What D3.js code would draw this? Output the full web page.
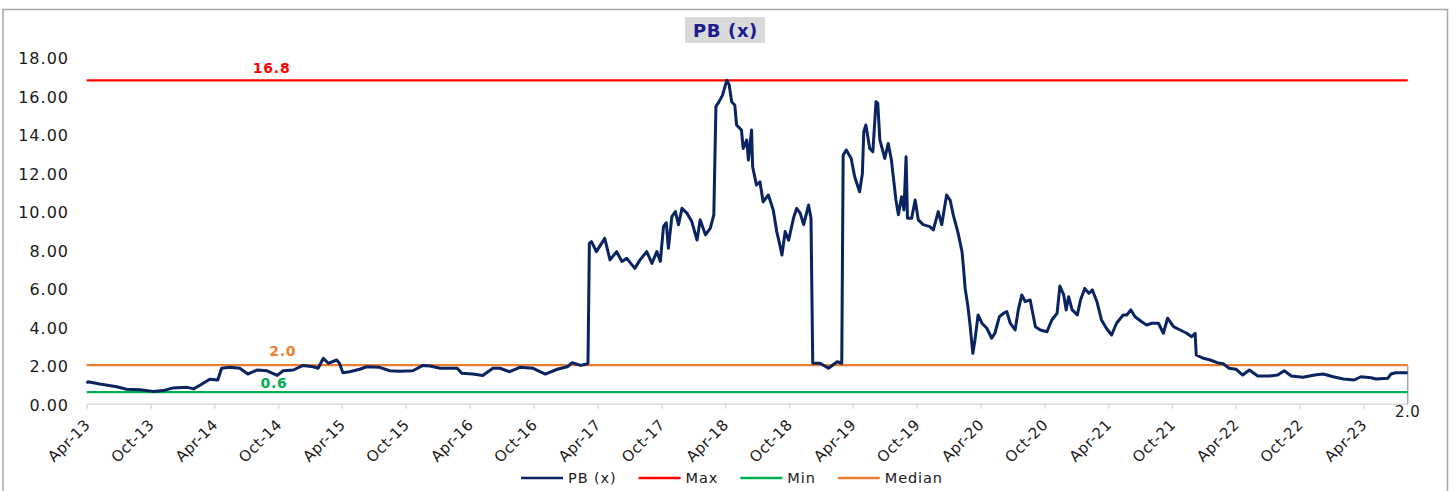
<!DOCTYPE html>
<html>
<head>
<meta charset="utf-8">
<script src="https://cdn.jsdelivr.net/npm/d3@7"></script>
<style>
  html, body { margin: 0; padding: 0; background: #fff; }
  svg { display: block; }
  text { font-family: "DejaVu Sans", Verdana, sans-serif; }
</style>
</head>
<body>
<svg id="chart" width="1456" height="491"></svg>
<script>
// ---------- DATA ----------
const chartTitle = "PB (x)";
const seriesNames = ["PB (x)", "Max", "Min", "Median"];

const pbDates = [
  "2013-04-01","2013-04-05","2013-05-08","2013-06-26","2013-07-24","2013-09-01","2013-10-08","2013-11-06",
  "2013-12-04","2014-01-14","2014-02-01","2014-02-20","2014-03-19","2014-04-11","2014-04-22","2014-05-15",
  "2014-06-13","2014-07-06","2014-08-01","2014-08-30","2014-09-28","2014-10-15","2014-11-13","2014-12-11",
  "2015-01-09","2015-01-23","2015-02-07","2015-02-21","2015-03-17","2015-03-25","2015-04-04","2015-04-23",
  "2015-05-22","2015-06-11","2015-07-18","2015-08-16","2015-09-14","2015-10-21","2015-11-19","2015-12-09",
  "2016-01-07","2016-02-25","2016-03-09","2016-04-10","2016-05-08","2016-06-06","2016-06-26","2016-07-24",
  "2016-08-22","2016-09-29","2016-11-03","2016-12-07","2017-01-05","2017-01-19","2017-02-12","2017-03-02",
  "2017-03-05","2017-03-09","2017-03-15","2017-03-29","2017-04-13","2017-04-22","2017-05-07","2017-05-26",
  "2017-06-10","2017-06-24","2017-07-17","2017-08-01","2017-08-20","2017-09-04","2017-09-18","2017-09-28",
  "2017-10-07","2017-10-15","2017-10-21","2017-10-31","2017-11-10","2017-11-19","2017-11-29","2017-12-13",
  "2017-12-27","2018-01-11","2018-01-20","2018-02-04","2018-02-18","2018-02-28","2018-03-06","2018-03-15",
  "2018-03-25","2018-04-06","2018-04-13","2018-04-20","2018-04-29","2018-05-04","2018-05-18","2018-05-23",
  "2018-06-02","2018-06-07","2018-06-16","2018-06-19","2018-06-30","2018-07-10","2018-07-19","2018-08-03",
  "2018-08-17","2018-08-27","2018-09-06","2018-09-11","2018-09-20","2018-09-30","2018-10-14","2018-10-23",
  "2018-11-02","2018-11-12","2018-11-26","2018-12-03","2018-12-08","2018-12-29","2019-01-22","2019-02-16",
  "2019-03-01","2019-03-05","2019-03-14","2019-03-28","2019-04-07","2019-04-21","2019-04-29","2019-05-03",
  "2019-05-09","2019-05-20","2019-05-29","2019-06-07","2019-06-12","2019-06-18","2019-07-02","2019-07-12",
  "2019-07-21","2019-08-03","2019-08-10","2019-08-19","2019-08-26","2019-09-01","2019-09-05","2019-09-17",
  "2019-09-27","2019-10-06","2019-10-20","2019-11-08","2019-11-18","2019-12-02","2019-12-12","2019-12-26",
  "2020-01-05","2020-01-14","2020-01-28","2020-02-08","2020-02-12","2020-02-17","2020-02-25","2020-03-02",
  "2020-03-10","2020-03-16","2020-03-25","2020-04-05","2020-04-19","2020-05-03","2020-05-12","2020-05-25",
  "2020-06-06","2020-06-15","2020-06-25","2020-07-09","2020-07-18","2020-07-28","2020-08-07","2020-08-21",
  "2020-09-05","2020-09-19","2020-10-08","2020-10-22","2020-11-06","2020-11-14","2020-11-25","2020-12-02",
  "2020-12-09","2020-12-19","2021-01-03","2021-01-12","2021-01-24","2021-02-05","2021-02-15","2021-02-28",
  "2021-03-13","2021-03-27","2021-04-11","2021-04-25","2021-05-14","2021-05-24","2021-06-05","2021-06-17",
  "2021-07-06","2021-07-20","2021-08-04","2021-08-23","2021-09-06","2021-09-18","2021-10-05","2021-10-24",
  "2021-11-12","2021-11-26","2021-12-06","2021-12-09","2021-12-30","2022-01-18","2022-02-07","2022-02-24",
  "2022-03-13","2022-04-02","2022-04-21","2022-05-10","2022-06-03","2022-07-06","2022-07-30","2022-08-18",
  "2022-09-07","2022-10-10","2022-11-13","2022-12-07","2023-01-05","2023-02-03","2023-03-06","2023-03-25",
  "2023-04-23","2023-05-07","2023-06-10","2023-06-19","2023-07-03","2023-08-06"
];
const pbValues = [
  1.06,1.14,1.02,0.88,0.75,0.72,0.64,0.68,
  0.82,0.85,0.77,0.97,1.27,1.23,1.84,1.89,
  1.84,1.54,1.75,1.71,1.47,1.71,1.75,1.99,
  1.92,1.84,2.36,2.10,2.27,2.10,1.61,1.66,
  1.79,1.92,1.89,1.71,1.68,1.71,1.99,1.96,
  1.84,1.84,1.58,1.54,1.47,1.84,1.84,1.66,
  1.89,1.84,1.54,1.79,1.92,2.13,1.99,2.06,
  2.10,8.33,8.42,7.90,8.33,8.59,7.47,7.90,
  7.39,7.55,7.03,7.47,7.90,7.29,7.90,7.39,
  9.20,9.40,8.07,9.72,9.98,9.30,10.15,9.90,
  9.46,8.50,9.55,8.77,9.12,9.81,15.43,15.69,
  16.03,16.80,16.56,15.69,15.52,14.48,14.22,13.26,
  13.70,12.66,14.22,12.31,11.36,11.53,10.49,10.84,
  10.06,8.94,8.16,7.72,8.94,8.50,9.64,10.15,
  9.90,9.30,10.32,9.64,2.10,2.10,1.84,2.18,
  2.10,12.92,13.18,12.74,11.79,11.01,11.96,14.13,
  14.48,13.26,13.09,15.69,15.60,13.70,12.74,13.52,
  12.66,10.58,9.81,10.75,10.06,12.83,9.64,9.64,
  10.58,9.55,9.30,9.20,9.03,9.98,9.30,10.84,
  10.58,9.81,8.85,7.90,7.12,5.99,5.04,4.08,
  2.62,3.30,4.61,4.18,3.92,3.40,3.66,4.52,
  4.70,4.79,4.18,3.83,4.87,5.65,5.30,5.39,
  4.00,3.83,3.74,4.35,4.70,6.11,5.65,4.87,
  5.56,4.87,4.61,5.39,5.99,5.73,5.91,5.30,
  4.35,3.92,3.57,4.18,4.61,4.61,4.87,4.52,
  4.26,4.09,4.18,4.18,3.66,4.44,4.00,3.83,
  3.66,3.48,3.66,2.53,2.36,2.27,2.13,2.08,
  1.84,1.79,1.49,1.75,1.44,1.44,1.49,1.71,
  1.44,1.37,1.49,1.54,1.40,1.28,1.23,1.40,
  1.35,1.28,1.32,1.54,1.61,1.61
];

const maxValue = 16.8;
const minValue = 0.6;
const medianValue = 2.0;
const refLabels = ["16.8", "0.6", "2.0"];
const endLabel = "2.0";

const yTickValues = [0, 2, 4, 6, 8, 10, 12, 14, 16, 18];
const xTickDates = [
  "2013-04-01","2013-10-01","2014-04-01","2014-10-01","2015-04-01","2015-10-01",
  "2016-04-01","2016-10-01","2017-04-01","2017-10-01","2018-04-01","2018-10-01",
  "2019-04-01","2019-10-01","2020-04-01","2020-10-01","2021-04-01","2021-10-01",
  "2022-04-01","2022-10-01","2023-04-01"
];
const xDomainDates = ["2013-04-01", "2023-08-06"];

// ---------- STYLE ----------
const colors = { pb: "#0A2461", max: "#FF0000", min: "#00B050", median: "#ED7D31",
                 axis: "#D9D9D9", frame: "#A6A6A6", title: "#1C1C8E", titleBg: "#D9D9D9" };

const parse = d3.timeParse("%Y-%m-%d");
const data = pbDates.map((d, i) => ({ date: parse(d), value: pbValues[i] }));

const svg = d3.select("#chart");

// outer frame
svg.append("rect").attr("x", 3).attr("y", 9.5).attr("width", 1444.5).attr("height", 490)
  .attr("fill", "none").attr("stroke", colors.frame).attr("stroke-width", 1.5);

const plot = { left: 86.7, right: 1407.7, top: 57.2, bottom: 403.7 };

const x = d3.scaleTime().domain(xDomainDates.map(parse)).range([plot.left, plot.right]);
const y = d3.scaleLinear().domain([0, 18]).range([plot.bottom, plot.top]);

// title
const titleG = svg.append("g");
titleG.append("rect").attr("x", 685).attr("y", 17).attr("width", 80).attr("height", 26)
  .attr("fill", colors.titleBg);
titleG.append("text").attr("x", 725.5).attr("y", 36.5).attr("text-anchor", "middle")
  .attr("font-size", 18).attr("font-weight", "bold").attr("letter-spacing", 0.6)
  .attr("fill", colors.title).text(chartTitle);

// y axis (labels only)
const yAxis = d3.axisLeft(y).tickValues(yTickValues).tickFormat(d3.format(".2f"))
  .tickSize(0).tickPadding(0);
const yG = svg.append("g").attr("transform", `translate(${69},0)`).call(yAxis);
yG.select(".domain").remove();
yG.selectAll("text").attr("font-size", 16).attr("letter-spacing", 1).attr("fill", "#1a1a1a")
  .attr("font-family", "DejaVu Sans").attr("dy", "0.42em");

// x axis
const xAxis = d3.axisBottom(x).tickValues(xTickDates.map(parse)).tickFormat(d3.timeFormat("%b-%y"))
  .tickSize(5).tickSizeOuter(0);
const xG = svg.append("g").attr("transform", `translate(0,${plot.bottom})`).call(xAxis);
xG.select(".domain").attr("stroke", colors.axis).attr("stroke-width", 1.5);
xG.selectAll(".tick line").attr("stroke", colors.axis).attr("stroke-width", 1.5);
xG.selectAll(".tick text")
  .attr("font-size", 15).attr("letter-spacing", 0.5).attr("fill", "#1a1a1a")
  .attr("font-family", "DejaVu Sans")
  .attr("text-anchor", "end").attr("x", 4).attr("y", 22).attr("dy", 0)
  .attr("transform", "rotate(-45, 4, 22)");

// right-end marker & label
svg.append("line").attr("x1", plot.right).attr("x2", plot.right)
  .attr("y1", y(medianValue)).attr("y2", plot.bottom)
  .attr("stroke", "#A6A6A6").attr("stroke-width", 1.5);
svg.append("text").attr("x", plot.right).attr("y", 416.5).attr("text-anchor", "middle")
  .attr("font-size", 15).attr("letter-spacing", 0.5).attr("fill", "#1a1a1a").text(endLabel);

// reference lines
const refs = [
  { v: maxValue, c: colors.max, w: 2.3 },
  { v: minValue, c: colors.min, w: 2.3 },
  { v: medianValue, c: colors.median, w: 2.3 }
];
svg.selectAll("line.ref").data(refs).enter().append("line").attr("class", "ref")
  .attr("x1", plot.left).attr("x2", plot.right)
  .attr("y1", d => y(d.v)).attr("y2", d => y(d.v))
  .attr("stroke", d => d.c).attr("stroke-width", d => d.w);

// PB line
const line = d3.line().x(d => x(d.date)).y(d => y(d.value));
svg.append("path").datum(data).attr("d", line).attr("fill", "none")
  .attr("stroke", colors.pb).attr("stroke-width", 3).attr("stroke-linejoin", "round");

// reference value labels
const refLabelDefs = [
  { text: refLabels[0], date: "2014-09-12", v: maxValue, c: colors.max, dy: -7 },
  { text: refLabels[1], date: "2014-09-19", v: minValue, c: colors.min, dy: -4 },
  { text: refLabels[2], date: "2014-10-14", v: medianValue, c: colors.median, dy: -9 }
];
svg.selectAll("text.reflab").data(refLabelDefs).enter().append("text").attr("class", "reflab")
  .attr("x", d => x(parse(d.date))).attr("y", d => y(d.v) + d.dy)
  .attr("text-anchor", "middle").attr("font-size", 14).attr("font-weight", "bold")
  .attr("letter-spacing", 0.8).attr("fill", d => d.c).text(d => d.text);

// legend
const legendItems = [
  { name: seriesNames[0], c: colors.pb },
  { name: seriesNames[1], c: colors.max },
  { name: seriesNames[2], c: colors.min },
  { name: seriesNames[3], c: colors.median }
];
const lg = svg.append("g");
let lx = 521;
const ly = 478;
legendItems.forEach(it => {
  lg.append("line").attr("x1", lx).attr("x2", lx + 42).attr("y1", ly).attr("y2", ly)
    .attr("stroke", it.c).attr("stroke-width", 2.6);
  const t = lg.append("text").attr("x", lx + 47).attr("y", ly + 5)
    .attr("font-size", 14.5).attr("letter-spacing", 0.9).attr("fill", "#1a1a1a").text(it.name);
  lx += 47 + t.node().getComputedTextLength() + 22;
});
</script>
</body>
</html>
